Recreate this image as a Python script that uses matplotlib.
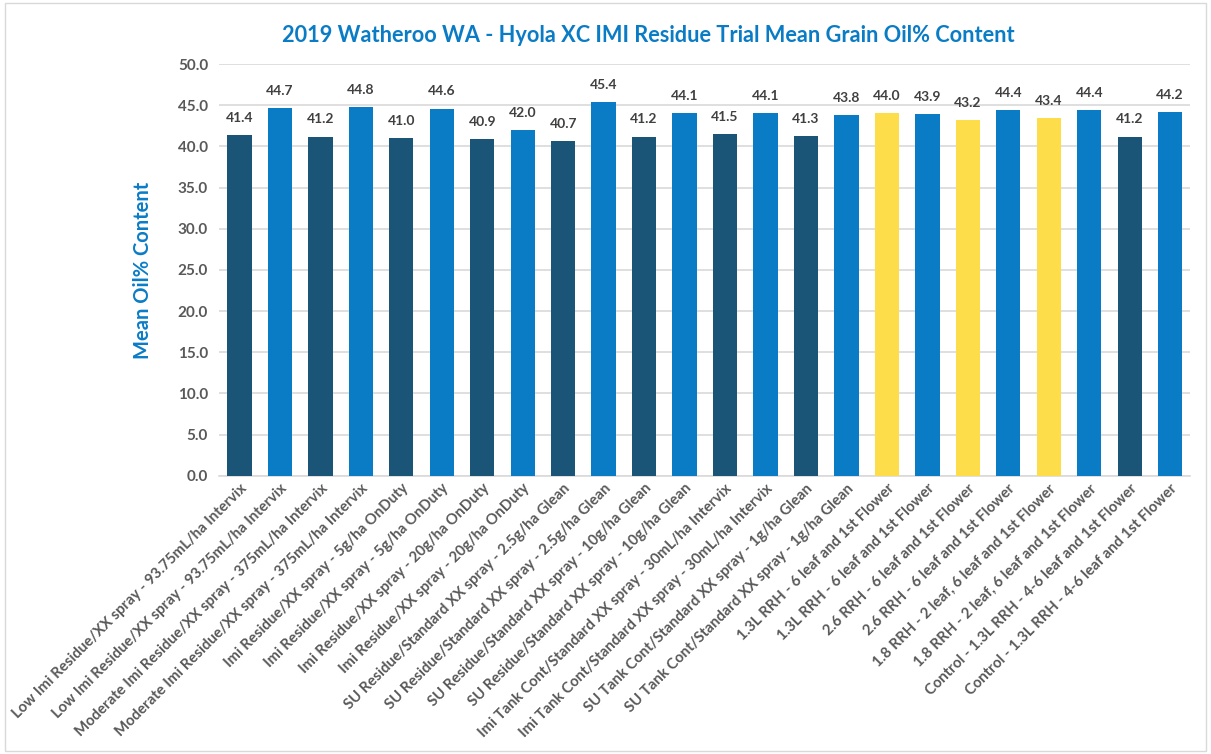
import matplotlib.pyplot as plt
from matplotlib.patches import Rectangle

# treatment labels
labels = [
    "Low Imi Residue/XX spray - 93.75mL/ha Intervix",
    "Low Imi Residue/XX spray - 93.75mL/ha Intervix",
    "Moderate Imi Residue/XX spray - 375mL/ha Intervix",
    "Moderate Imi Residue/XX spray - 375mL/ha Intervix",
    "Imi Residue/XX spray - 5g/ha OnDuty",
    "Imi Residue/XX spray - 5g/ha OnDuty",
    "Imi Residue/XX spray - 20g/ha OnDuty",
    "Imi Residue/XX spray - 20g/ha OnDuty",
    "SU Residue/Standard XX spray - 2.5g/ha Glean",
    "SU Residue/Standard XX spray - 2.5g/ha Glean",
    "SU Residue/Standard XX spray - 10g/ha Glean",
    "SU Residue/Standard XX spray - 10g/ha Glean",
    "Imi Tank Cont/Standard XX spray - 30mL/ha Intervix",
    "Imi Tank Cont/Standard XX spray - 30mL/ha Intervix",
    "SU Tank Cont/Standard XX spray - 1g/ha Glean",
    "SU Tank Cont/Standard XX spray - 1g/ha Glean",
    "1.3L RRH - 6 leaf and 1st Flower",
    "1.3L RRH - 6 leaf and 1st Flower",
    "2.6 RRH - 6 leaf and 1st Flower",
    "2.6 RRH - 6 leaf and 1st Flower",
    "1.8 RRH - 2 leaf, 6 leaf and 1st Flower",
    "1.8 RRH - 2 leaf, 6 leaf and 1st Flower",
    "Control - 1.3L RRH - 4-6 leaf and 1st Flower",
    "Control - 1.3L RRH - 4-6 leaf and 1st Flower",
]

oil = [41.4, 44.7, 41.2, 44.8, 41.0, 44.6, 40.9, 42.0, 40.7, 45.4, 41.2, 44.1,
       41.5, 44.1, 41.3, 43.8, 44.0, 43.9, 43.2, 44.4, 43.4, 44.4, 41.2, 44.2]

# d = dark teal, b = blue, y = yellow
groups = ['d', 'b', 'd', 'b', 'd', 'b', 'd', 'b', 'd', 'b', 'd', 'b',
          'd', 'b', 'd', 'b', 'y', 'b', 'y', 'b', 'y', 'b', 'd', 'b']

palette = {'d': '#1A5577', 'b': '#0A7CC6', 'y': '#FDDD4A'}
grey = '#595959'

plt.rcParams['font.family'] = ['Lato', 'DejaVu Sans']

fig = plt.figure(figsize=(12.11, 7.54), dpi=100)
ax = fig.add_axes([0.181, 0.369, 0.802, 0.546])

x = range(len(oil))
bars = ax.bar(x, oil, width=0.6, color=[palette[g] for g in groups], zorder=3)

for xi, v in zip(x, oil):
    ax.annotate(f'{v:.1f}', (xi, v), xytext=(0, 8), textcoords='offset points',
                ha='center', va='bottom', fontsize=10, fontweight='bold', color='#404040')

ax.set_ylim(0, 50)
ax.set_xlim(-0.5, len(oil) - 0.5)
ax.set_yticks([i * 5 for i in range(11)])
ax.set_yticklabels([f'{i * 5:.1f}' for i in range(11)], fontsize=11,
                   fontweight='bold', color=grey)
ax.set_xticks(list(x))
ax.set_xticklabels(labels, rotation=45, ha='right', rotation_mode='anchor',
                   fontsize=10.7, fontweight='bold', color=grey)
ax.tick_params(length=0, pad=8)
ax.tick_params(axis='x', pad=4)

ax.grid(axis='y', color='#D9D9D9', linewidth=1.2, zorder=0)
for s in ['top', 'right', 'left']:
    ax.spines[s].set_visible(False)
ax.spines['bottom'].set_color('#D9D9D9')
ax.spines['bottom'].set_linewidth(1.2)

ax.set_ylabel('Mean Oil% Content', fontsize=14.5, fontweight='bold',
              color='#0A7CC6', labelpad=18)

fig.text(0.535, 0.953, '2019 Watheroo WA - Hyola XC IMI Residue Trial Mean Grain Oil% Content',
         ha='center', va='center', fontsize=15.7, fontweight='bold', color='#0A7CC6')

fig.patches.append(Rectangle((0.004, 0.004), 0.992, 0.992, transform=fig.transFigure,
                             fill=False, edgecolor='#D9D9D9', linewidth=1))

fig.savefig('out.png', dpi=100)
